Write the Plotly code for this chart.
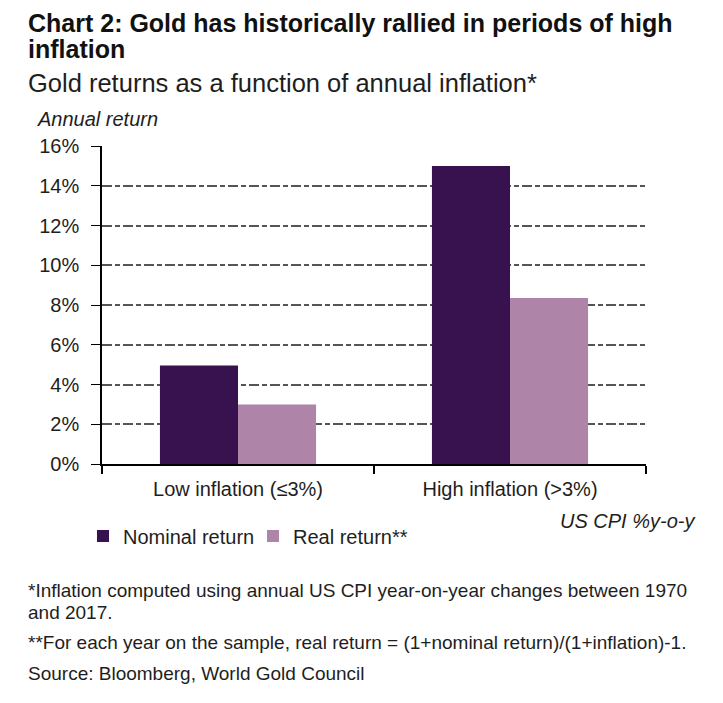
import plotly.graph_objects as go

categories = ["Low inflation (≤3%)", "High inflation (>3%)"]
nominal_return = [4.95, 15.0]
real_return = [3.0, 8.35]
y_tick_vals = [0, 2, 4, 6, 8, 10, 12, 14, 16]
y_tick_text = ["0%", "2%", "4%", "6%", "8%", "10%", "12%", "14%", "16%"]

# page has an 8px body margin; work in reference pixel coordinates
OFF = 8
W, H = 723 - OFF, 703 - OFF
L, R, T, B = 102, 646, 146, 464  # plot area in reference pixels
FONT = "Liberation Sans"
TXT = "#1e1e1e"


def px(x):
    return (x - L) / (R - L)


def py(y):
    return (B - y) / (B - T)


fig = go.Figure()
fig.add_trace(go.Bar(x=categories, y=nominal_return, name="Nominal return",
                     marker=dict(color="#38114f", line=dict(width=0))))
fig.add_trace(go.Bar(x=categories, y=real_return, name="Real return**",
                     marker=dict(color="#ae84a9", line=dict(width=0))))

ann = []


def add(text, x, y, size, xanchor="left", yanchor="middle", bold=False, italic=False):
    t = text
    if bold:
        t = "<b>" + t + "</b>"
    if italic:
        t = "<i>" + t + "</i>"
    ann.append(dict(text=t, x=px(x), y=py(y), xanchor=xanchor, yanchor=yanchor,
                    xref="paper", yref="paper", showarrow=False, align="left",
                    borderpad=0,
                    font=dict(size=size, family=FONT, color="#111" if bold else TXT)))


add("Chart 2: Gold has historically rallied in periods of high", 27, OFF, 25,
    yanchor="top", bold=True)
add("inflation", 27, 49, 25, bold=True)
add("Gold returns as a function of annual inflation*", 27, 83, 25.5)
add("Annual return", 36, 119, 20, italic=True)
add("US CPI %y-o-y", 696, 521, 20, xanchor="right", italic=True)
add("*Inflation computed using annual US CPI year-on-year changes between 1970", 27, 590, 19)
add("and 2017.", 27, 612, 19)
add("**For each year on the sample, real return = (1+nominal return)/(1+inflation)-1.", 27, 642, 19)
add("Source: Bloomberg, World Gold Council", 27, 673, 19)

fig.update_layout(
    width=W, height=H,
    margin=dict(l=L - OFF, r=723 - R, t=T - OFF, b=703 - B, pad=0),
    paper_bgcolor="white", plot_bgcolor="white",
    barmode="group", bargap=0.426, bargroupgap=0,
    font=dict(family=FONT, size=20, color=TXT),
    showlegend=True,
    legend=dict(orientation="h", x=px(83), y=py(536), xanchor="left", yanchor="middle",
                font=dict(size=20, family=FONT, color=TXT), itemwidth=30,
                entrywidth=125, traceorder="normal", bgcolor="rgba(0,0,0,0)"),
    annotations=ann,
    xaxis=dict(showline=True, linecolor="#000", linewidth=1.5, ticks="outside",
               tickson="boundaries", ticklen=8, tickcolor="#000", tickwidth=1.5,
               showgrid=False, ticklabelstandoff=6,
               tickfont=dict(size=20, family=FONT, color=TXT)),
    yaxis=dict(range=[0, 16], tickvals=y_tick_vals, ticktext=y_tick_text,
               showline=True, linecolor="#000", linewidth=1.5, ticks="outside",
               ticklen=9, tickcolor="#000", tickwidth=1, showgrid=True,
               gridcolor="#555555", griddash="10px,3px,5px,3px", gridwidth=1.5,
               zeroline=False, ticklabelstandoff=8,
               tickfont=dict(size=20, family=FONT, color=TXT)),
)

fig.write_html("out.html")
